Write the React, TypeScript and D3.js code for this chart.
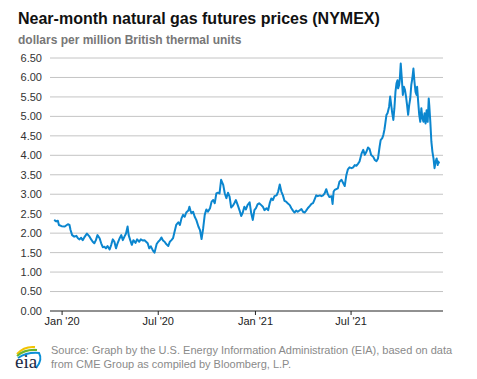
import React from "react";
import * as d3 from "d3";

const title = "Near-month natural gas futures prices (NYMEX)";
const subtitle = "dollars per million British thermal units";
const sourceLines = [
  "Source: Graph by the U.S. Energy Information Administration (EIA), based on data",
  "from CME Group as compiled by Bloomberg, L.P.",
];

const yTicks = [0, 0.5, 1, 1.5, 2, 2.5, 3, 3.5, 4, 4.5, 5, 5.5, 6, 6.5];
const xTickDates = ["2020-01-01", "2020-07-01", "2021-01-01", "2021-07-01"];
const xTickLabels = ["Jan '20", "Jul '20", "Jan '21", "Jul '21"];
const xDomain = ["2019-12-11", "2021-12-22"];

const dates = [
  "2019-12-17","2019-12-21","2019-12-24","2019-12-26","2019-12-31",
  "2020-01-06","2020-01-12","2020-01-15","2020-01-17","2020-01-20","2020-01-24","2020-01-28","2020-01-31",
  "2020-02-03","2020-02-06","2020-02-09","2020-02-12","2020-02-15","2020-02-17","2020-02-22","2020-02-25","2020-02-28",
  "2020-03-02","2020-03-05","2020-03-08","2020-03-12","2020-03-15","2020-03-18","2020-03-21","2020-03-24","2020-03-27","2020-03-31",
  "2020-04-03","2020-04-06","2020-04-09","2020-04-12","2020-04-15","2020-04-19","2020-04-22","2020-04-25","2020-04-28",
  "2020-05-01","2020-05-04","2020-05-06","2020-05-09","2020-05-12","2020-05-15","2020-05-19","2020-05-22","2020-05-26","2020-05-29",
  "2020-06-02","2020-06-05","2020-06-08","2020-06-11","2020-06-14","2020-06-17","2020-06-21","2020-06-24","2020-06-28",
  "2020-07-01","2020-07-04","2020-07-07","2020-07-10","2020-07-13","2020-07-16","2020-07-20","2020-07-23","2020-07-26","2020-07-29",
  "2020-08-01","2020-08-04","2020-08-08","2020-08-11","2020-08-14","2020-08-17","2020-08-20","2020-08-23","2020-08-27","2020-08-29","2020-08-31",
  "2020-09-02","2020-09-05","2020-09-08","2020-09-11","2020-09-15","2020-09-18","2020-09-21","2020-09-24","2020-09-27","2020-09-30",
  "2020-10-03","2020-10-07","2020-10-10","2020-10-13","2020-10-16","2020-10-19","2020-10-22","2020-10-25","2020-10-28",
  "2020-11-01","2020-11-04","2020-11-07","2020-11-10","2020-11-13","2020-11-16","2020-11-19","2020-11-22","2020-11-25","2020-11-29",
  "2020-12-02","2020-12-05","2020-12-08","2020-12-11","2020-12-14","2020-12-17","2020-12-21","2020-12-24","2020-12-27","2020-12-30",
  "2021-01-02","2021-01-05","2021-01-08","2021-01-12","2021-01-15","2021-01-18","2021-01-22","2021-01-25","2021-01-28","2021-01-31",
  "2021-02-03","2021-02-06","2021-02-10","2021-02-13","2021-02-16","2021-02-19","2021-02-22","2021-02-25","2021-02-28",
  "2021-03-03","2021-03-07","2021-03-10","2021-03-13","2021-03-16","2021-03-19","2021-03-22","2021-03-26","2021-03-29",
  "2021-04-01","2021-04-04","2021-04-07","2021-04-10","2021-04-14","2021-04-17","2021-04-20","2021-04-23","2021-04-26","2021-04-29",
  "2021-05-03","2021-05-06","2021-05-09","2021-05-12","2021-05-15","2021-05-18","2021-05-21","2021-05-25","2021-05-27","2021-05-29","2021-05-31",
  "2021-06-03","2021-06-06","2021-06-09","2021-06-13","2021-06-16","2021-06-19","2021-06-22","2021-06-25","2021-06-28",
  "2021-07-02","2021-07-05","2021-07-08","2021-07-11","2021-07-14","2021-07-17","2021-07-21","2021-07-24","2021-07-27","2021-07-30",
  "2021-08-02","2021-08-05","2021-08-08","2021-08-12","2021-08-15","2021-08-18","2021-08-21","2021-08-24","2021-08-26","2021-08-29","2021-08-31",
  "2021-09-02","2021-09-03","2021-09-06","2021-09-08","2021-09-11","2021-09-13","2021-09-15","2021-09-17","2021-09-19","2021-09-21","2021-09-23","2021-09-25","2021-09-27","2021-09-28","2021-09-30",
  "2021-10-01","2021-10-03","2021-10-05","2021-10-07","2021-10-09","2021-10-11","2021-10-13","2021-10-15","2021-10-17","2021-10-19","2021-10-21","2021-10-23","2021-10-25","2021-10-27","2021-10-29","2021-10-31",
  "2021-11-02","2021-11-03","2021-11-05","2021-11-07","2021-11-09","2021-11-11","2021-11-13","2021-11-15","2021-11-17","2021-11-19","2021-11-21","2021-11-23","2021-11-25","2021-11-26","2021-11-28","2021-11-30",
  "2021-12-02","2021-12-04","2021-12-06","2021-12-08","2021-12-10","2021-12-12","2021-12-13","2021-12-15",
];

const prices = [
  2.34,2.30,2.32,2.21,2.18,
  2.17,2.23,2.21,2.08,1.95,1.91,1.93,1.87,
  1.84,1.88,1.82,1.89,1.95,1.99,1.91,1.84,1.78,
  1.74,1.82,1.95,1.87,1.74,1.64,1.65,1.61,1.67,1.58,
  1.70,1.84,1.78,1.61,1.74,1.87,1.95,1.82,1.91,
  1.99,2.17,1.95,1.82,1.70,1.82,1.75,1.84,1.78,1.84,
  1.81,1.82,1.78,1.74,1.61,1.66,1.55,1.50,1.72,
  1.78,1.82,1.89,1.81,1.78,1.72,1.67,1.78,1.82,1.87,
  2.04,2.21,2.28,2.21,2.38,2.47,2.42,2.53,2.58,2.68,2.58,
  2.51,2.55,2.42,2.34,2.17,2.08,1.85,2.12,2.47,2.61,
  2.55,2.64,2.81,2.85,2.77,3.02,3.04,3.02,3.37,
  3.24,3.02,2.90,3.04,2.94,2.66,2.70,2.77,2.85,2.70,
  2.58,2.44,2.53,2.68,2.61,2.72,2.79,2.51,2.34,2.59,
  2.64,2.74,2.77,2.72,2.68,2.59,2.64,2.59,2.77,2.89,
  2.85,2.95,2.97,3.07,3.25,3.07,2.97,2.83,2.81,
  2.77,2.72,2.64,2.58,2.53,2.58,2.55,2.59,2.62,
  2.55,2.53,2.58,2.64,2.70,2.75,2.77,2.87,2.97,2.95,
  2.97,2.95,2.97,3.02,3.13,3.00,2.93,2.95,2.75,3.07,3.11,
  3.13,3.15,3.32,3.37,3.29,3.21,3.49,3.64,3.69,
  3.67,3.69,3.75,3.73,3.78,3.84,4.05,4.14,4.01,4.09,
  4.20,4.16,4.01,3.96,3.88,3.85,3.92,4.22,4.39,4.44,4.52,
  4.65,4.74,5.04,5.08,5.25,5.51,5.29,5.08,4.91,5.21,5.63,5.85,5.93,5.72,5.81,
  5.91,6.36,5.98,5.55,5.76,5.68,5.51,5.29,5.04,5.29,5.46,5.81,5.98,6.23,5.89,5.63,
  5.55,5.76,5.38,5.04,4.86,5.21,4.95,4.86,5.08,4.82,5.16,4.86,5.46,5.29,4.86,4.35,
  4.09,3.92,3.67,3.84,3.92,3.75,3.84,3.79,
];

const FONT = "'Liberation Sans', Arial, Helvetica, sans-serif";

export default function App() {
  const width = 477;
  const height = 379;
  const parse = d3.timeParse("%Y-%m-%d");

  const x = d3
    .scaleTime()
    .domain(xDomain.map((d) => parse(d) as Date))
    .range([51, 443]);
  const y = d3.scaleLinear().domain([0, 6.5]).range([311, 58]);

  const data = dates.map((d, i) => ({ date: parse(d) as Date, value: prices[i] }));
  const line = d3
    .line<{ date: Date; value: number }>()
    .x((d) => x(d.date))
    .y((d) => y(d.value));

  const [x0, x1] = x.range();

  return (
    <svg
      width={width}
      height={height}
      style={{ position: "absolute", left: 0, top: 0, background: "#fff" }}
      fontFamily={FONT}
    >
      <rect x={0} y={0} width={width} height={height} fill="#fff" />
      <text x={18} y={24} fontSize={16} fontWeight="bold" fill="#111">
        {title}
      </text>
      <text x={18} y={44} fontSize={12} fontWeight="bold" fill="#777">
        {subtitle}
      </text>

      {yTicks.map((t) => (
        <g key={t}>
          {t > 0 && (
            <line x1={x0 - 1} x2={x1} y1={y(t)} y2={y(t)} stroke="#c4c4c4" strokeWidth={1} />
          )}
          <text
            x={42}
            y={y(t)}
            dy="0.36em"
            textAnchor="end"
            fontSize={11}
            fill="#333"
          >
            {t.toFixed(2)}
          </text>
        </g>
      ))}

      <path d={line(data) || ""} fill="none" stroke="#0b86cf" strokeWidth={2} strokeLinejoin="round" />

      <line x1={x0 - 1} x2={x1} y1={y(0)} y2={y(0)} stroke="#222" strokeWidth={1} />
      {xTickDates.map((d, i) => {
        const xx = x(parse(d) as Date);
        return (
          <g key={d}>
            <line x1={xx} x2={xx} y1={y(0)} y2={y(0) + 4} stroke="#222" strokeWidth={1} />
            <text x={xx} y={325} textAnchor="middle" fontSize={11} fill="#222">
              {xTickLabels[i]}
            </text>
          </g>
        );
      })}

      {/* EIA logo */}
      <g>
        <path d="M17,354 Q24,346 35,347" fill="none" stroke="#f2c300" strokeWidth={2} />
        <path d="M17,356 Q25,349 37,350" fill="none" stroke="#6ab42d" strokeWidth={2} />
        <path d="M18,358 Q27,352 39,353 Q43,360 36,368" fill="none" stroke="#0a8fd6" strokeWidth={2} />
        <text x={15} y={368} fontSize={19} fontFamily="'Liberation Serif', 'DejaVu Serif', serif" fill="#1b2a44">
          eia
        </text>
      </g>

      {sourceLines.map((s, i) => (
        <text key={i} x={51} y={354 + i * 14} fontSize={11} fill="#8a8a8a">
          {s}
        </text>
      ))}
    </svg>
  );
}
